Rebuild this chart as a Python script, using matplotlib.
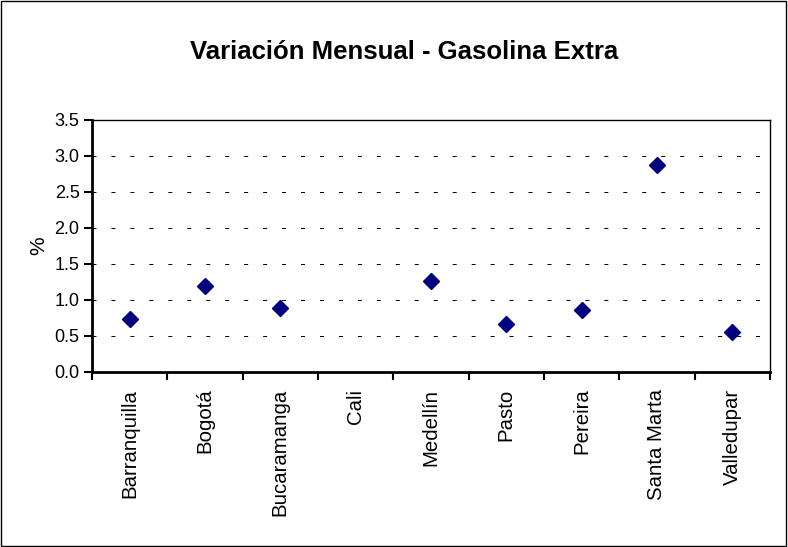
import matplotlib
matplotlib.use("Agg")
import matplotlib.pyplot as plt
import numpy as np
from matplotlib.patches import Rectangle

plt.rcParams['font.family'] = ['Liberation Sans', 'DejaVu Sans']

cities = ["Barranquilla", "Bogotá", "Bucaramanga", "Cali", "Medellín",
          "Pasto", "Pereira", "Santa Marta", "Valledupar"]
values = [0.74, 1.19, 0.89, np.nan, 1.26, 0.67, 0.86, 2.87, 0.55]
yticks = [0.0, 0.5, 1.0, 1.5, 2.0, 2.5, 3.0, 3.5]
title = "Variación Mensual - Gasolina Extra"
ylabel = "%"

fig = plt.figure(figsize=(7.88, 5.47), dpi=100)
ax = fig.add_axes([92/788, 1-372/547, (770-92)/788, (372-120)/547])

x = np.arange(len(cities))
ax.plot(x, values, linestyle='none', marker='D', markersize=8,
        color='#000080', markeredgecolor='#000080', zorder=3)

ax.set_xlim(-0.5, len(cities)-0.5)
ax.set_ylim(0, 3.5)
ax.set_yticks(yticks)
ax.set_yticklabels([f"{v:.1f}" for v in yticks], fontsize=13)
ax.set_xticks(x)
ax.set_xticklabels(cities, rotation=90, fontsize=14.7)
ax.set_xticks(np.arange(len(cities)+1)-0.5, minor=True)
ax.tick_params(axis='x', which='major', length=0, pad=12)
ax.tick_params(axis='x', which='minor', length=6, width=1.5, direction='out')
ax.tick_params(axis='y', which='major', length=6, width=1.5, direction='out', pad=3)

for v in yticks[1:-1]:
    ax.axhline(v, color='black', linestyle=(0, (3.8, 14.4)), linewidth=0.75, zorder=0)

for s in ['left', 'bottom']:
    ax.spines[s].set_linewidth(2)
for s in ['top', 'right']:
    ax.spines[s].set_linewidth(1)

ax.set_ylabel(ylabel, fontsize=15)
ax.yaxis.set_label_coords(-0.064, 0.5)

fig.text(0.513, 0.905, title, ha='center', va='center', fontsize=18.5, fontweight='bold')

fig.patches.append(Rectangle((0.001, 0.001), 0.997, 0.997, transform=fig.transFigure,
                             fill=False, edgecolor='black', linewidth=1))

fig.savefig("out.png", dpi=100)
